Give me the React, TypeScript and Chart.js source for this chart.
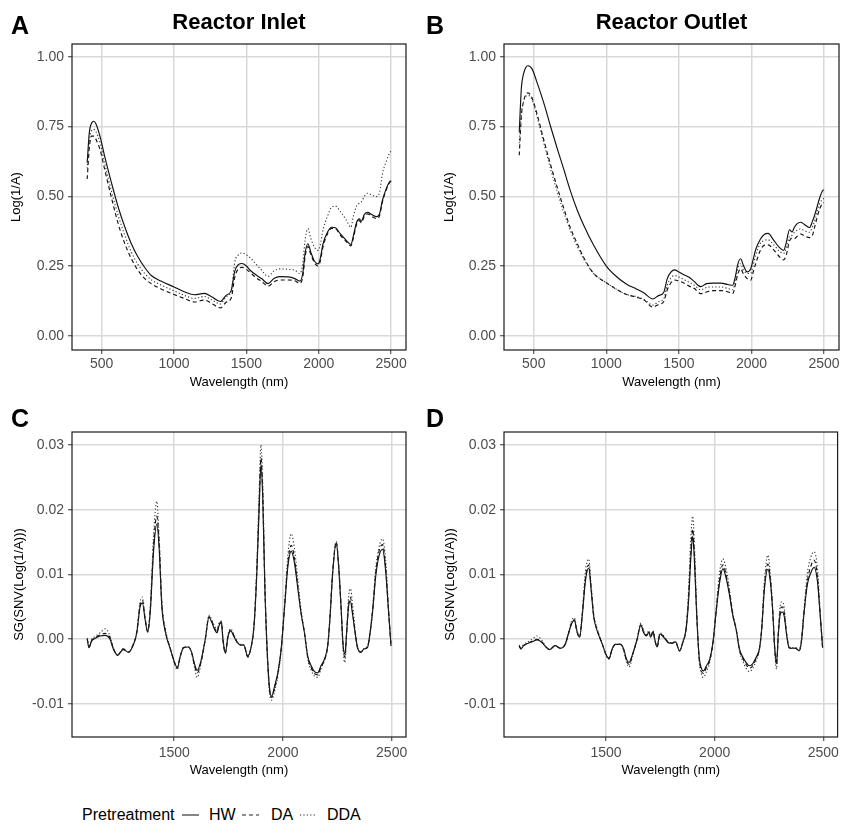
import React, { useEffect, useRef } from "react";
import { Chart, registerables } from "chart.js";

Chart.register(...registerables);

const FONT = "'Liberation Sans', Arial, Helvetica, sans-serif";

// ---------- Raw spectra (Log(1/A)) : panels A and B ----------
const wlRaw = [
  400, 415, 430, 445, 460, 490, 520, 570, 615, 660,
  705, 750, 800, 845, 910, 1000, 1075, 1140, 1210, 1260,
  1320, 1360, 1395, 1420, 1445, 1470, 1500, 1530, 1570, 1605,
  1650, 1690, 1730, 1790, 1835, 1870, 1890, 1905, 1925, 1945,
  1970, 1995, 2010, 2030, 2060, 2090, 2115, 2150, 2190, 2222,
  2240, 2262, 2280, 2295, 2315, 2338, 2365, 2400, 2420, 2440,
  2470, 2490, 2500,
];

const inletHW = [
  0.62, 0.73, 0.762, 0.769, 0.76, 0.712, 0.645, 0.544, 0.46, 0.39,
  0.33, 0.283, 0.243, 0.215, 0.196, 0.175, 0.157, 0.147, 0.152, 0.14,
  0.123, 0.145, 0.162, 0.232, 0.255, 0.259, 0.25, 0.233, 0.217, 0.205,
  0.187, 0.205, 0.212, 0.211, 0.205, 0.196, 0.225, 0.294, 0.33, 0.3,
  0.268, 0.258, 0.276, 0.33, 0.371, 0.389, 0.387, 0.365, 0.342, 0.327,
  0.36, 0.407, 0.419, 0.411, 0.435, 0.443, 0.435, 0.427, 0.437, 0.485,
  0.532, 0.552, 0.556,
];
const inletDA = [
  0.562, 0.675, 0.716, 0.716, 0.705, 0.665, 0.598, 0.49, 0.40, 0.33,
  0.276, 0.235, 0.204, 0.186, 0.168, 0.148, 0.133, 0.121, 0.128, 0.116,
  0.100, 0.12, 0.135, 0.21, 0.24, 0.245, 0.238, 0.225, 0.207, 0.195,
  0.178, 0.193, 0.2, 0.2, 0.197, 0.188, 0.212, 0.28, 0.32, 0.292,
  0.262, 0.25, 0.266, 0.32, 0.365, 0.385, 0.384, 0.36, 0.338, 0.322,
  0.352, 0.4, 0.413, 0.405, 0.428, 0.437, 0.428, 0.42, 0.43, 0.48,
  0.528, 0.55, 0.553,
];
const inletDDA = [
  0.60, 0.70, 0.735, 0.74, 0.732, 0.69, 0.62, 0.514, 0.43, 0.36,
  0.30, 0.256, 0.222, 0.2, 0.182, 0.161, 0.144, 0.134, 0.141, 0.129,
  0.114, 0.14, 0.16, 0.265, 0.29, 0.297, 0.29, 0.278, 0.255, 0.235,
  0.213, 0.232, 0.24, 0.238, 0.235, 0.223, 0.26, 0.34, 0.384, 0.35,
  0.318, 0.306, 0.325, 0.38, 0.428, 0.462, 0.465, 0.445, 0.415, 0.389,
  0.43, 0.465, 0.475, 0.48, 0.5, 0.511, 0.505, 0.499, 0.514, 0.58,
  0.63, 0.655, 0.663,
];

const outletHW = [
  0.73, 0.89, 0.94, 0.962, 0.968, 0.955, 0.912, 0.833, 0.752, 0.674,
  0.60, 0.523, 0.45, 0.395, 0.327, 0.25, 0.21, 0.185, 0.167, 0.153,
  0.132, 0.144, 0.155, 0.205, 0.228, 0.236, 0.229, 0.22, 0.21, 0.195,
  0.176, 0.187, 0.189, 0.189, 0.184, 0.181, 0.215, 0.255, 0.276, 0.252,
  0.229, 0.24, 0.27, 0.31, 0.345, 0.364, 0.367, 0.345, 0.318, 0.306,
  0.335, 0.38, 0.372, 0.388, 0.402, 0.407, 0.399, 0.388, 0.41, 0.44,
  0.495, 0.52, 0.523,
];
const outletDA = [
  0.647, 0.79, 0.84, 0.865, 0.871, 0.85, 0.80, 0.70, 0.615, 0.535,
  0.46, 0.39, 0.33, 0.28, 0.225, 0.19, 0.165, 0.148, 0.138, 0.128,
  0.103, 0.112, 0.122, 0.165, 0.19, 0.2, 0.196, 0.19, 0.178, 0.17,
  0.151, 0.157, 0.162, 0.162, 0.158, 0.151, 0.185, 0.22, 0.24, 0.222,
  0.205, 0.199, 0.225, 0.26, 0.305, 0.325, 0.326, 0.31, 0.285, 0.272,
  0.29, 0.34, 0.35, 0.348, 0.357, 0.365, 0.358, 0.352, 0.36, 0.4,
  0.455, 0.475, 0.478,
];
const outletDDA = [
  0.69, 0.80, 0.84, 0.858, 0.862, 0.845, 0.79, 0.69, 0.6, 0.52,
  0.445, 0.38, 0.32, 0.275, 0.225, 0.19, 0.165, 0.148, 0.14, 0.13,
  0.11, 0.122, 0.132, 0.182, 0.207, 0.216, 0.211, 0.203, 0.192, 0.182,
  0.165, 0.173, 0.175, 0.175, 0.17, 0.165, 0.2, 0.24, 0.258, 0.235,
  0.224, 0.223, 0.25, 0.29, 0.33, 0.342, 0.344, 0.328, 0.305, 0.295,
  0.315, 0.356, 0.36, 0.371, 0.378, 0.383, 0.377, 0.371, 0.39, 0.42,
  0.473, 0.49, 0.492,
];

// ---------- Pretreated spectra SG(SNV(Log(1/A))) in units of 1e-3 : panels C and D ----------
const wlSg = [
  1100, 1108, 1120, 1135, 1160, 1182, 1205, 1220, 1240, 1265,
  1290, 1313, 1328, 1343, 1354, 1366, 1378, 1390, 1405, 1420,
  1431, 1443, 1460, 1482, 1502, 1514, 1528, 1543, 1566, 1581,
  1594, 1606, 1622, 1643, 1660, 1673, 1686, 1697, 1705, 1717,
  1724, 1735, 1748, 1760, 1775, 1790, 1805, 1820, 1838, 1855,
  1867, 1879, 1890, 1899, 1907, 1917, 1928, 1939, 1948, 1962,
  1977, 1992, 2008, 2023, 2038, 2053, 2069, 2084, 2099, 2114,
  2130, 2145, 2160, 2175, 2191, 2206, 2216, 2229, 2245, 2256,
  2267, 2277, 2285, 2293, 2302, 2310, 2320, 2332, 2343, 2358,
  2373, 2389, 2399, 2412, 2427, 2442, 2458, 2473, 2485, 2497,
];

const inletSgHW = [
  0, -1.3, -0.3, 0.1, 0.5, 0.6, 0, -1.5, -2.5, -1.6,
  -2.0, -0.8, 1.0, 5.0, 5.6, 3.1, 1.1, 4.3, 13.5, 17.8,
  13.9, 5.1, 1.0, -1.5, -3.6, -4.4, -2.6, -1.3, -1.2, -2.1,
  -3.9, -4.8, -3.5, 0, 3.4, 2.6, 1.5, 1.0, 2.0, 2.6,
  0, -2.1, 0.5, 1.3, 0.4, -0.5, -0.9, -0.9, -2.6, -1.0,
  2.0, 9.5, 19.5, 27.0, 22.0, 8.0, -2.0, -7.7, -8.8, -7.2,
  -5.1, -1.5, 5.1, 11.3, 13.6, 11.8, 7.7, 3.9, 1.0, -2.6,
  -4.1, -5.0, -5.2, -4.1, -3.1, -1.0, 3.1, 10.3, 14.9, 11.3,
  5.1, -1.0, -2.3, 1.0, 5.1, 5.9, 3.9, 1.0, -1.3, -2.0,
  -1.5, -1.3, 0.5, 4.1, 9.8, 12.9, 13.9, 10.3, 4.6, -1.0,
];
const inletSgDA = [
  0, -1.2, -0.2, 0.2, 0.7, 0.9, 0.2, -1.4, -2.4, -1.5,
  -2.0, -0.7, 1.1, 5.3, 6.0, 3.2, 1.2, 4.6, 14.5, 19.0,
  14.8, 5.5, 1.2, -1.4, -3.7, -4.5, -2.6, -1.3, -1.2, -2.2,
  -4.1, -5.2, -3.7, 0, 3.5, 2.8, 1.7, 1.1, 2.2, 2.7,
  0, -2.2, 0.6, 1.4, 0.5, -0.5, -0.9, -0.9, -2.7, -1.0,
  2.1, 9.8, 20.3, 28.0, 22.8, 8.2, -2.2, -8.0, -9.0, -7.5,
  -5.3, -1.6, 5.3, 11.9, 14.5, 12.5, 8.0, 4.0, 1.0, -2.8,
  -4.4, -5.3, -5.5, -4.3, -3.2, -1.0, 3.2, 10.5, 15.0, 11.5,
  5.2, -1.2, -2.8, 1.0, 5.5, 6.5, 4.3, 1.1, -1.3, -2.0,
  -1.5, -1.2, 0.6, 4.3, 10.3, 13.6, 14.6, 10.9, 4.8, -1.0,
];
const inletSgDDA = [
  0.2, -1.2, 0, 0.4, 1.0, 1.6, 0.5, -1.3, -2.4, -1.5,
  -2.0, -0.6, 1.2, 5.7, 6.5, 3.4, 1.3, 5.0, 16.0, 21.3,
  15.5, 6.0, 1.5, -1.3, -3.8, -4.7, -2.7, -1.3, -1.2, -2.3,
  -4.5, -5.9, -4.0, 0, 3.7, 3.0, 2.0, 1.4, 2.4, 2.8,
  0.2, -2.0, 0.8, 1.6, 0.7, -0.4, -0.8, -0.9, -2.8, -1.0,
  2.3, 10.5, 22.0, 30.0, 24.0, 8.6, -2.5, -8.6, -9.4, -8.0,
  -5.6, -1.7, 5.6, 13.0, 16.3, 14.0, 9.0, 4.4, 1.1, -3.0,
  -4.8, -5.7, -5.9, -4.6, -3.3, -1.0, 3.3, 10.6, 15.1, 11.8,
  5.5, -1.8, -3.6, 1.2, 6.6, 7.8, 5.5, 1.5, -1.2, -2.0,
  -1.4, -1.0, 0.8, 4.6, 11.0, 14.2, 15.5, 12.0, 5.2, -1.0,
];

const outletSgHW = [
  -1.0, -1.5, -1.0, -0.7, -0.4, -0.1, -0.5, -1.1, -1.6, -1.0,
  -1.4, -0.7, 1.0, 2.5, 2.9, 1.2, 0.3, 3.5, 9.0, 11.0,
  7.7, 3.5, 1.2, -0.7, -2.5, -2.9, -1.5, -0.8, -0.8, -1.5,
  -3.1, -3.6, -2.3, 0, 2.2, 1.0, 0.5, 1.1, 0.3, 1.1,
  0, -1.2, 0.8, 0.5, -0.1, -0.6, -0.6, -0.4, -1.8, -0.3,
  1.2, 5.5, 12.4, 15.9, 12.0, 4.0, -2.5, -4.5, -4.9, -4.1,
  -3.1, -0.5, 4.6, 8.8, 10.9, 9.4, 6.7, 3.6, 1.5, -1.5,
  -2.8, -3.6, -4.1, -3.8, -2.8, -1.5, 1.3, 7.7, 10.8, 9.0,
  4.5, -1.5, -3.6, 0.8, 3.9, 4.2, 3.6, 0.5, -1.3, -1.4,
  -1.4, -1.8, -0.5, 4.2, 8.5, 10.2, 11.1, 9.0, 4.1, -1.3,
];
const outletSgDA = [
  -1.0, -1.5, -1.0, -0.7, -0.3, 0.0, -0.4, -1.1, -1.6, -1.0,
  -1.4, -0.7, 1.0, 2.7, 3.0, 1.2, 0.3, 3.7, 9.5, 11.5,
  8.0, 3.7, 1.3, -0.7, -2.6, -3.0, -1.5, -0.8, -0.8, -1.6,
  -3.3, -3.9, -2.4, 0, 2.3, 1.1, 0.6, 1.2, 0.4, 1.2,
  0, -1.2, 0.8, 0.6, 0, -0.6, -0.6, -0.4, -1.8, -0.3,
  1.3, 6.0, 13.5, 17.0, 12.8, 4.2, -2.7, -4.9, -5.3, -4.4,
  -3.3, -0.6, 4.8, 9.3, 11.5, 9.9, 7.0, 3.7, 1.5, -1.6,
  -3.0, -3.9, -4.5, -4.1, -3.0, -1.5, 1.4, 8.2, 11.6, 9.5,
  4.6, -1.7, -4.0, 0.8, 4.5, 5.0, 4.2, 0.6, -1.3, -1.4,
  -1.4, -1.8, -0.4, 4.4, 9.0, 11.2, 12.2, 9.7, 4.3, -1.3,
];
const outletSgDDA = [
  -0.9, -1.4, -0.8, -0.5, 0, 0.5, -0.2, -1.0, -1.6, -1.0,
  -1.4, -0.6, 1.2, 3.0, 3.3, 1.4, 0.4, 4.0, 10.5, 12.4,
  8.5, 4.0, 1.5, -0.6, -2.7, -3.1, -1.6, -0.8, -0.8, -1.7,
  -3.6, -4.3, -2.6, 0, 2.5, 1.3, 0.7, 1.3, 0.5, 1.3,
  0.1, -1.1, 1.0, 0.7, 0.1, -0.5, -0.5, -0.4, -1.8, -0.2,
  1.5, 7.0, 15.5, 19.0, 14.5, 4.8, -3.0, -5.4, -5.9, -5.0,
  -3.6, -0.6, 5.2, 10.4, 12.4, 10.8, 7.6, 4.0, 1.6, -1.8,
  -3.4, -4.5, -5.0, -4.5, -3.3, -1.6, 1.5, 9.0, 13.0, 10.2,
  4.8, -2.2, -4.6, 0.9, 5.2, 5.8, 4.9, 0.8, -1.2, -1.3,
  -1.3, -1.7, -0.2, 4.8, 10.2, 12.6, 13.5, 11.0, 4.8, -1.3,
];

// ---------- Axis ticks ----------
const rawXTicks = [500, 1000, 1500, 2000, 2500];
const rawYTicks = [0, 0.25, 0.5, 0.75, 1.0];
const sgXTicks = [1500, 2000, 2500];
const sgYTicks = [-0.01, 0, 0.01, 0.02, 0.03];

const pretreatments = ["HW", "DA", "DDA"];
const dashes: Record<string, number[]> = { HW: [], DA: [4, 3], DDA: [1.2, 2.2] };

type Series = { label: string; values: number[] };

type PanelProps = {
  left: number;
  top: number;
  width: number;
  height: number;
  padTop: number;
  padRight: number;
  yWidth: number;
  xHeight: number;
  xMin: number;
  xMax: number;
  xTicks: number[];
  yMin: number;
  yMax: number;
  yTicks: number[];
  yTitle: string;
  yTitlePad: number;
  xTitlePad: number;
  xTickPad: number;
  wl: number[];
  series: Series[];
  unit: number;
};

function Panel(p: PanelProps) {
  const ref = useRef<HTMLCanvasElement | null>(null);
  useEffect(() => {
    if (!ref.current) return;
    const frame = {
      id: "frame",
      afterDatasetsDraw(chart: any) {
        const { ctx, chartArea: a } = chart;
        ctx.save();
        ctx.strokeStyle = "#1a1a1a";
        ctx.lineWidth = 1.2;
        ctx.strokeRect(a.left, a.top, a.right - a.left, a.bottom - a.top);
        ctx.restore();
      },
    };
    const ordered = [...p.series].reverse();
    const chart = new Chart(ref.current, {
      type: "line",
      data: {
        datasets: ordered.map((s) => ({
          label: s.label,
          data: p.wl.map((x, i) => ({ x, y: s.values[i] * p.unit })),
          borderColor: s.label === "DDA" ? "#333" : "#111",
          borderWidth: s.label === "DDA" ? 1.1 : 1.15,
          borderDash: dashes[s.label],
          pointRadius: 0,
          fill: false,
          cubicInterpolationMode: "monotone",
        })),
      },
      options: {
        responsive: false,
        animation: false,
        devicePixelRatio: 1,
        layout: { padding: { top: p.padTop, right: p.padRight, left: 0, bottom: 0 } },
        plugins: { legend: { display: false }, tooltip: { enabled: false } },
        scales: {
          x: {
            type: "linear",
            min: p.xMin,
            max: p.xMax,
            afterFit: (s: any) => {
              s.height = p.xHeight;
            },
            afterBuildTicks: (s: any) => {
              s.ticks = p.xTicks.map((v) => ({ value: v }));
            },
            grid: { color: "#d9d9d9", lineWidth: 1.5, tickColor: "#333", tickLength: 4, tickWidth: 1 },
            border: { display: false },
            ticks: {
              autoSkip: false,
              maxRotation: 0,
              padding: p.xTickPad,
              color: "#4d4d4d",
              font: { family: FONT, size: 14 },
              callback: (v: any) => String(v),
            },
            title: {
              display: true,
              text: "Wavelength (nm)",
              color: "#000",
              font: { family: FONT, size: 13 },
              padding: { top: 0, bottom: p.xTitlePad },
            },
          },
          y: {
            type: "linear",
            min: p.yMin,
            max: p.yMax,
            afterFit: (s: any) => {
              s.width = p.yWidth;
            },
            afterBuildTicks: (s: any) => {
              s.ticks = p.yTicks.map((v) => ({ value: v }));
            },
            grid: { color: "#d9d9d9", lineWidth: 1.5, tickColor: "#333", tickLength: 4, tickWidth: 1 },
            border: { display: false },
            ticks: {
              autoSkip: false,
              padding: 4,
              color: "#4d4d4d",
              font: { family: FONT, size: 14 },
              callback: (v: any) => Number(v).toFixed(2),
            },
            title: {
              display: true,
              text: p.yTitle,
              color: "#000",
              font: { family: FONT, size: 13 },
              padding: { top: p.yTitlePad, bottom: 0 },
            },
          },
        },
      } as any,
      plugins: [frame],
    });
    return () => chart.destroy();
  }, []);
  return (
    <canvas
      ref={ref}
      width={p.width}
      height={p.height}
      style={{ position: "absolute", left: p.left, top: p.top, width: p.width, height: p.height }}
    />
  );
}

const letterStyle: React.CSSProperties = {
  position: "absolute",
  fontFamily: FONT,
  fontWeight: "bold",
  fontSize: 25,
  lineHeight: "26px",
  color: "#000",
};

const titleStyle: React.CSSProperties = {
  position: "absolute",
  width: 300,
  textAlign: "center",
  fontFamily: FONT,
  fontWeight: "bold",
  fontSize: 22,
  lineHeight: "24px",
  color: "#000",
};

const legendText: React.CSSProperties = {
  position: "absolute",
  fontFamily: FONT,
  fontSize: 16,
  lineHeight: "18px",
  top: 806,
  color: "#000",
};

function LegendKey({ left, dash }: { left: number; dash: string }) {
  return (
    <svg style={{ position: "absolute", left, top: 808 }} width={18} height={14}>
      <line x1={0} y1={7} x2={17} y2={7} stroke="#222" strokeWidth={1.1} strokeDasharray={dash} />
    </svg>
  );
}

export default function App() {
  const rawPanel = {
    width: 420,
    height: 395,
    padTop: 44,
    xHeight: 45,
    xMin: 295,
    xMax: 2603,
    xTicks: rawXTicks,
    yMin: -0.051,
    yMax: 1.046,
    yTicks: rawYTicks,
    yTitle: "Log(1/A)",
    xTitlePad: 4.5,
    xTickPad: 2,
    wl: wlRaw,
    unit: 1,
  };
  const sgPanel = {
    width: 420,
    height: 395,
    padTop: 37,
    xHeight: 53,
    xMin: 1030,
    xMax: 2566,
    xTicks: sgXTicks,
    yMin: -0.0151,
    yMax: 0.032,
    yTicks: sgYTicks,
    yTitle: "SG(SNV(Log(1/A)))",
    xTitlePad: 12,
    xTickPad: 4,
    wl: wlSg,
    unit: 0.001,
  };
  const mk = (vals: number[][]): Series[] => pretreatments.map((label, i) => ({ label, values: vals[i] }));

  return (
    <div style={{ position: "absolute", left: 0, top: 0, width: 843, height: 825, background: "#fff", overflow: "hidden" }}>
      <Panel {...rawPanel} left={0} top={0} padRight={14} yWidth={72} yTitlePad={9}
        series={mk([inletHW, inletDA, inletDDA])} />
      <Panel {...rawPanel} left={420} top={0} width={423} padRight={4} yWidth={84} yTitlePad={22}
        series={mk([outletHW, outletDA, outletDDA])} />
      <Panel {...sgPanel} left={0} top={395} padRight={14} yWidth={72} yTitlePad={12}
        series={mk([inletSgHW, inletSgDA, inletSgDDA])} />
      <Panel {...sgPanel} left={420} top={395} width={423} padRight={4} yWidth={84} yTitlePad={23}
        series={mk([outletSgHW, outletSgDA, outletSgDDA])} />

      <div style={{ ...letterStyle, left: 11, top: 12 }}>A</div>
      <div style={{ ...letterStyle, left: 426, top: 12 }}>B</div>
      <div style={{ ...letterStyle, left: 11, top: 405 }}>C</div>
      <div style={{ ...letterStyle, left: 426, top: 405 }}>D</div>

      <div style={{ ...titleStyle, left: 239 - 150, top: 10 }}>Reactor Inlet</div>
      <div style={{ ...titleStyle, left: 671.5 - 150, top: 10 }}>Reactor Outlet</div>

      <div style={{ ...legendText, left: 82 }}>Pretreatment</div>
      <LegendKey left={182} dash="" />
      <div style={{ ...legendText, left: 209 }}>HW</div>
      <LegendKey left={242} dash="4 3" />
      <div style={{ ...legendText, left: 271 }}>DA</div>
      <LegendKey left={300} dash="1.2 2.2" />
      <div style={{ ...legendText, left: 327 }}>DDA</div>
    </div>
  );
}
